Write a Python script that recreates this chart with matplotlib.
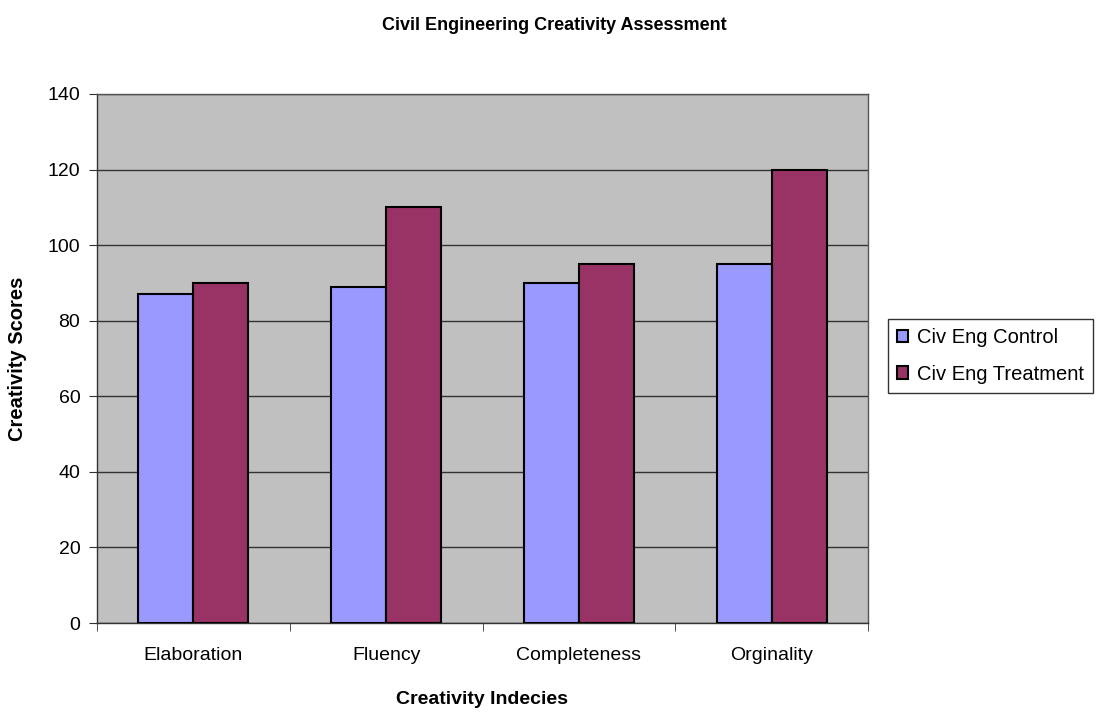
import matplotlib.pyplot as plt
import numpy as np

categories = ["Elaboration", "Fluency", "Completeness", "Orginality"]
control = [87, 89, 90, 95]
treatment = [90, 110, 95, 120]
series_names = ["Civ Eng Control", "Civ Eng Treatment"]

plt.rcParams["font.family"] = ["Liberation Sans", "DejaVu Sans"]

fig = plt.figure(figsize=(10.99, 7.12), dpi=100)
ax = fig.add_axes([97 / 1099, 1 - 623 / 712, 771 / 1099, 529 / 712])
ax.set_facecolor("#C0C0C0")

x = np.arange(len(categories))
w = 0.285
ax.bar(x - w / 2, control, w, color="#9999FF", edgecolor="black", lw=1.5,
       label=series_names[0], zorder=3)
ax.bar(x + w / 2, treatment, w, color="#993366", edgecolor="black", lw=1.5,
       label=series_names[1], zorder=3)

ax.set_xlim(-0.5, len(categories) - 0.5)
ax.set_ylim(0, 140)
ax.set_yticks(range(0, 141, 20))
ax.yaxis.grid(True, color="#333333", lw=1.0, zorder=1)
ax.set_xticks(x)
ax.set_xticklabels(categories, fontsize=14)
ax.set_xticks(np.arange(-0.5, len(categories), 1), minor=True)
ax.tick_params(axis="x", which="major", length=0, pad=17)
ax.tick_params(axis="x", which="minor", length=6, direction="out", color="#333333")
ax.tick_params(axis="y", labelsize=14, length=6, color="#333333", pad=6)
for s in ax.spines.values():
    s.set_color("#555555")
    s.set_linewidth(1.0)
ax.spines["left"].set_color("#333333")
ax.spines["bottom"].set_color("#333333")

ax.set_xlabel("Creativity Indecies", fontsize=14, fontweight="bold", labelpad=20)
ax.set_ylabel("Creativity Scores", fontsize=14.5, fontweight="bold", labelpad=15)
fig.suptitle("Civil Engineering Creativity Assessment", fontsize=13,
             fontweight="bold", x=554 / 1099, y=1 - 25 / 712, va="center")

leg = fig.legend(loc="center left", bbox_to_anchor=(888 / 1099, 1 - 356 / 712),
                 fontsize=14.5, frameon=True, fancybox=False, handlelength=0.55,
                 handleheight=0.55, handletextpad=0.45, borderpad=0.45,
                 labelspacing=0.85, borderaxespad=0)
leg.get_frame().set_edgecolor("black")
leg.get_frame().set_linewidth(1.0)

fig.savefig("out.png", dpi=100)
